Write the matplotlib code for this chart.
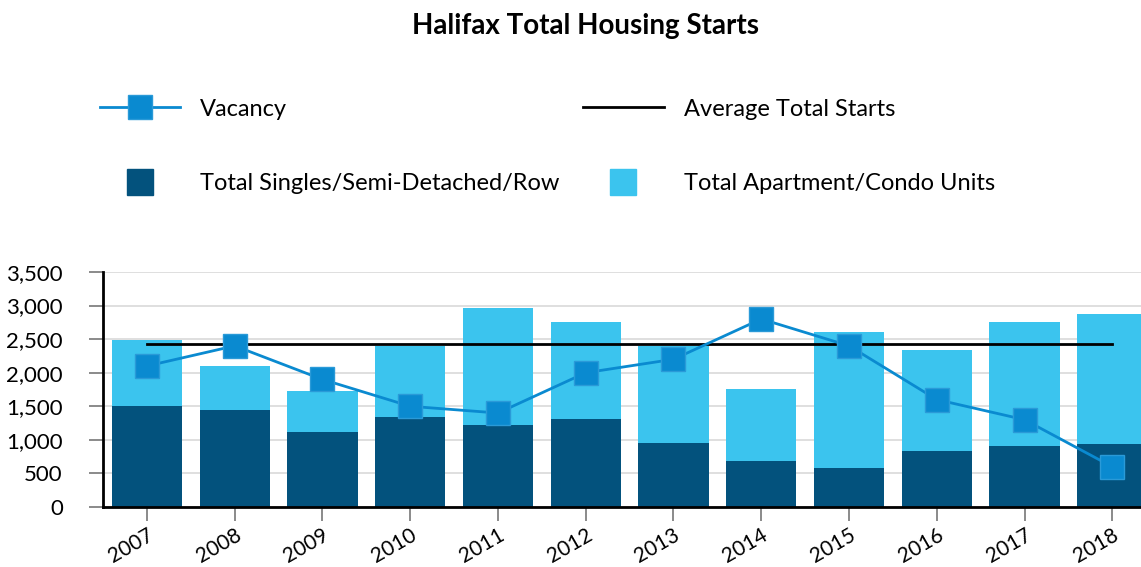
import numpy as np
import matplotlib
matplotlib.use('Agg')
import matplotlib.pyplot as plt
from matplotlib.lines import Line2D

plt.rcParams['font.family'] = ['Lato', 'DejaVu Sans']

years = ['2007', '2008', '2009', '2010', '2011', '2012',
         '2013', '2014', '2015', '2016', '2017', '2018']
singles = [1500, 1450, 1115, 1340, 1220, 1310, 950, 680, 575, 830, 905, 935]
apartments = [990, 650, 610, 1060, 1745, 1445, 1450, 1075, 2030, 1507, 1850, 1939]
vacancy = [2.1, 2.4, 1.9, 1.5, 1.4, 2.0, 2.2, 2.8, 2.4, 1.6, 1.3, 0.6]

dark = '#03527d'
light = '#3bc4ee'
line_c = '#0a8ad0'

totals = np.array(singles) + np.array(apartments)
avg = totals.mean()
x = np.arange(len(years))

fig = plt.figure(figsize=(11.41, 5.67), dpi=100)
ax = fig.add_axes([0.0903, 0.1058, 0.923, 0.4145])

ax.bar(x, singles, width=0.8, color=dark, zorder=2)
ax.bar(x, apartments, width=0.8, bottom=singles, color=light, zorder=2)
ax.plot([x[0], x[-1]], [avg, avg], color='black', lw=2, zorder=3)

ax.set_ylim(0, 3500)
ax.set_xlim(-0.5, 11.5)
ax.set_yticks(np.arange(0, 3501, 500))
ax.set_yticklabels([f'{v:,}' for v in range(0, 3501, 500)], fontsize=16)
ax.set_xticks(x)
ax.set_xticklabels(years, rotation=30, ha='right', rotation_mode='anchor', fontsize=15)
ax.yaxis.grid(True, color='#d9d9d9', lw=1.2, zorder=0)
ax.set_axisbelow(True)
for s in ['top', 'right']:
    ax.spines[s].set_visible(False)
ax.spines['left'].set_linewidth(2)
ax.spines['bottom'].set_linewidth(2)
ax.tick_params(axis='y', length=10, color='#777777', width=1.2, pad=19)
ax.tick_params(axis='x', length=10, color='#777777', width=1.2, pad=3)

ax2 = ax.twinx()
ax2.set_ylim(0, 3.5)
ax2.plot(x, vacancy, color=line_c, lw=2, marker='s', ms=17.5,
         mfc=line_c, mec='#2a9ad8', zorder=4)
ax2.axis('off')

fig.text(0.513, 0.955, 'Halifax Total Housing Starts', ha='center', va='center',
         fontsize=20, fontweight='bold')

handles = [
    Line2D([], [], color=line_c, lw=2, marker='s', ms=17.5, mfc=line_c, mec='#2a9ad8'),
    Line2D([], [], color=dark, marker='s', ms=19, ls=''),
    Line2D([], [], color='black', lw=2),
    Line2D([], [], color=light, marker='s', ms=19, ls=''),
]
labels = ['Vacancy', 'Total Singles/Semi-Detached/Row',
          'Average Total Starts', 'Total Apartment/Condo Units']
fig.legend(handles, labels, ncol=2, loc='upper left', bbox_to_anchor=(0.0876, 0.826),
           frameon=False, fontsize=17, handlelength=3.4, handletextpad=0.85,
           columnspacing=1.0, labelspacing=2.26, borderpad=0, borderaxespad=0)

fig.savefig('out.png', dpi=100)
